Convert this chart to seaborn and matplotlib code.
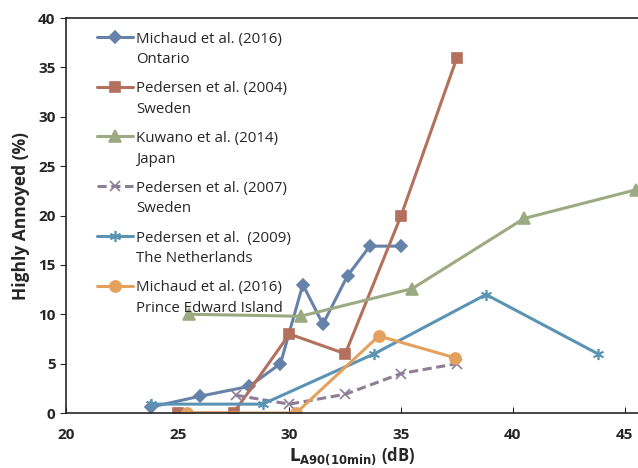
import seaborn as sns
import matplotlib.pyplot as plt

# Michaud et al. (2016) Ontario
ont_x = [23.8, 26.0, 28.2, 29.6, 30.6, 31.5, 32.6, 33.6, 35.0]
ont_y = [0.6, 1.7, 2.7, 5.0, 13.0, 9.0, 13.9, 16.9, 16.9]
# Pedersen et al. (2004) Sweden
sw04_x = [25.0, 27.5, 30.0, 32.5, 35.0, 37.5]
sw04_y = [0.0, 0.0, 8.0, 6.0, 20.0, 36.0]
# Kuwano et al. (2014) Japan
jp_x = [25.5, 30.5, 35.5, 40.5, 45.5]
jp_y = [10.0, 9.8, 12.6, 19.7, 22.6]
# Pedersen et al. (2007) Sweden
sw07_x = [27.6, 30.0, 32.5, 35.0, 37.5]
sw07_y = [1.8, 0.9, 1.9, 4.0, 5.0]
# Pedersen et al. (2009) The Netherlands
nl_x = [23.8, 28.8, 33.8, 38.8, 43.8]
nl_y = [0.9, 0.9, 6.0, 12.0, 6.0]
# Michaud et al. (2016) PEI
pei_x = [25.4, 30.3, 34.0, 37.4]
pei_y = [0.0, 0.0, 7.8, 5.6]

series = [
    (ont_x, ont_y, 'Michaud et al. (2016)\nOntario', '#6682a8', 'D', 'solid', 6),
    (sw04_x, sw04_y, 'Pedersen et al. (2004)\nSweden', '#b3705d', 's', 'solid', 7.5),
    (jp_x, jp_y, 'Kuwano et al. (2014)\nJapan', '#9caa82', '^', 'solid', 8),
    (sw07_x, sw07_y, 'Pedersen et al. (2007)\nSweden', '#8d7d96', 'x', (0, (3, 1.5)), 7),
    (nl_x, nl_y, 'Pedersen et al.  (2009)\nThe Netherlands', '#5b93b5', (6, 2, 0), 'solid', 8),
    (pei_x, pei_y, 'Michaud et al. (2016)\nPrince Edward Island', '#e4a15d', 'o', 'solid', 8),
]

sns.set_style('ticks')
plt.rcParams['font.family'] = ['Open Sans', 'DejaVu Sans']

fig = plt.figure(figsize=(6.38, 4.68), dpi=100)
ax = fig.add_axes([0.1034, 0.1175, 0.8966, 0.844])

for x, y, label, color, marker, ls, ms in series:
    sns.lineplot(x=x, y=y, ax=ax, label=label, color=color, marker=marker,
                 markersize=ms, linewidth=2.2, linestyle=ls, sort=False,
                 estimator=None, markeredgecolor=color, markeredgewidth=1.2)

ax.set_xlim(20, 45.6)
ax.set_ylim(0, 40)
ax.set_xticks(range(20, 46, 5))
ax.set_yticks(range(0, 41, 5))
for t in ax.get_xticklabels() + ax.get_yticklabels():
    t.set_fontweight('bold')
    t.set_fontsize(11)
ax.tick_params(axis='x', direction='in', length=4, pad=11)
ax.tick_params(axis='y', direction='out', length=4)
for s in ax.spines.values():
    s.set_linewidth(1.2)
ax.spines['right'].set_visible(False)

ax.set_ylabel('Highly Annoyed (%)', fontsize=12.5, fontweight='bold', labelpad=6)
ax.set_xlabel(r'$\mathbf{L_{A90(10min)}}$ (dB)', fontsize=12, fontweight='bold',
              labelpad=2)

leg = ax.legend(loc='upper left', bbox_to_anchor=(0.03, 1.0), frameon=False,
                fontsize=10.8, handlelength=2.4, handletextpad=0.25,
                labelspacing=0.95)
for t in leg.get_texts():
    t.set_linespacing(1.5)
# put each handle next to the first line of its label
for col in leg._legend_handle_box.get_children():
    for row in col.get_children():
        row.align = 'top'

plt.savefig('out.png', dpi=100)
